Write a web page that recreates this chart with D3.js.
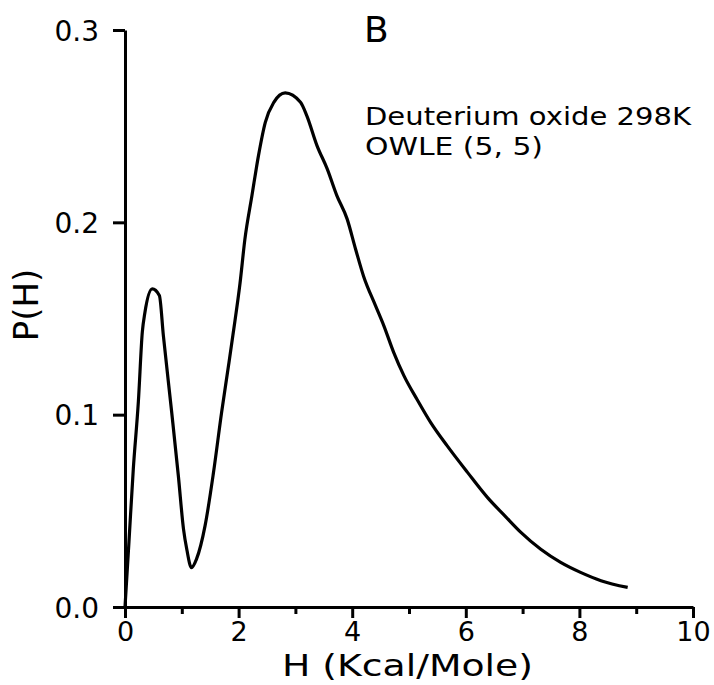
<!DOCTYPE html>
<html>
<head>
<meta charset="utf-8">
<script src="https://cdn.jsdelivr.net/npm/d3@7"></script>
<style>
    body { margin: 0; background: #fff; }
    svg { display: block; }
    text { font-family: "DejaVu Sans", sans-serif; fill: #000; }
</style>
</head>
<body>
<div id="chart"></div>
<script>
// H (Kcal/Mole) and P(H)
const hValues = [0, 0.07, 0.146, 0.235, 0.305, 0.35, 0.48, 0.605, 0.676, 0.823, 0.94, 1.03, 1.09, 1.17, 1.26, 1.41,
    1.556, 1.70, 1.82, 1.907, 2.025, 2.11, 2.235, 2.35, 2.47, 2.62, 2.82, 3.09, 3.2, 3.38, 3.56, 3.73, 3.91,
    4.06, 4.2, 4.41, 4.556, 4.73, 4.91, 5.14, 5.38, 5.67, 6.03, 6.38, 6.7, 6.97, 7.32, 7.67, 8.02, 8.38, 8.85];
const pValues = [0, 0.034, 0.0717, 0.1066, 0.143, 0.153, 0.1654, 0.162, 0.141, 0.101, 0.068, 0.0405, 0.0296, 0.0205,
    0.025, 0.0423, 0.0695, 0.101, 0.125, 0.1428, 0.1683, 0.191, 0.2139, 0.2347, 0.252, 0.2624, 0.2673, 0.2624,
    0.2555, 0.2399, 0.2278, 0.2139, 0.2018, 0.186, 0.172, 0.1567, 0.1463, 0.1324, 0.1203, 0.108, 0.096, 0.0839,
    0.070, 0.057, 0.047, 0.0388, 0.030, 0.0232, 0.018, 0.0137, 0.0102];

const xMajorTicks = [0, 2, 4, 6, 8, 10];
const xMinorTicks = [1, 3, 5, 7, 9];
const yTicks = [0, 0.1, 0.2, 0.3];
const panelLabel = 'B';
const noteLines = ['Deuterium oxide 298K', 'OWLE (5, 5)'];

const width = 714;
const height = 685;

const svg = d3.select('#chart').append('svg')
    .attr('width', width)
    .attr('height', height);

const x = d3.scaleLinear().domain([0, 10]).range([125, 693]);
const y = d3.scaleLinear().domain([0, 0.3]).range([607, 30]);

// x axis: labelled major ticks plus short minor ticks, all pointing down
const xAxis = svg.append('g')
    .attr('transform', `translate(0,${y(0)})`)
    .call(d3.axisBottom(x).tickValues(xMajorTicks).tickSize(11).tickSizeOuter(0).tickPadding(4).tickFormat(d3.format('d')));

svg.append('g')
    .attr('transform', `translate(0,${y(0)})`)
    .call(d3.axisBottom(x).tickValues(xMinorTicks).tickSize(7).tickSizeOuter(0).tickFormat(''))
    .select('.domain').remove();

const yAxis = svg.append('g')
    .attr('transform', `translate(${x(0)},0)`)
    .call(d3.axisLeft(y).tickValues(yTicks).tickSize(12).tickSizeOuter(0).tickPadding(14).tickFormat(d3.format('.1f')));

svg.selectAll('.domain, .tick line')
    .attr('stroke', '#000')
    .attr('stroke-width', 3);

xAxis.selectAll('text').style('font-size', '27px');
yAxis.selectAll('text').style('font-size', '28px').attr('dy', '0.36em');

// curve
const line = d3.line()
    .x((d, i) => x(hValues[i]))
    .y(d => y(d))
    .curve(d3.curveMonotoneX);

svg.append('path')
    .datum(pValues)
    .attr('d', line)
    .attr('fill', 'none')
    .attr('stroke', '#000')
    .attr('stroke-width', 3.2)
    .attr('stroke-linejoin', 'round');

// axis titles
svg.append('text')
    .attr('x', 282)
    .attr('y', 676)
    .attr('textLength', 251)
    .attr('lengthAdjust', 'spacingAndGlyphs')
    .style('font-size', '30px')
    .text('H  (Kcal/Mole)');

svg.append('text')
    .attr('transform', 'translate(38,305) rotate(-90)')
    .attr('text-anchor', 'middle')
    .style('font-size', '34px')
    .text('P(H)');

// panel letter and legend note
svg.append('text')
    .attr('x', 364)
    .attr('y', 42)
    .style('font-size', '36px')
    .text(panelLabel);

svg.append('text')
    .attr('x', 365)
    .attr('y', 125)
    .attr('textLength', 326)
    .attr('lengthAdjust', 'spacingAndGlyphs')
    .style('font-size', '24px')
    .text(noteLines[0]);

svg.append('text')
    .attr('x', 365)
    .attr('y', 155)
    .attr('textLength', 178)
    .attr('lengthAdjust', 'spacingAndGlyphs')
    .style('font-size', '24px')
    .text(noteLines[1]);
</script>
</body>
</html>
